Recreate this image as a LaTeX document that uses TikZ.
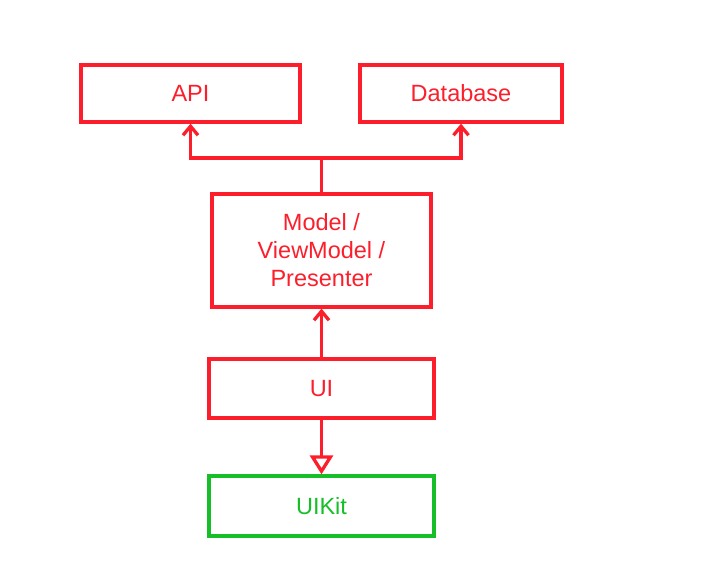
\documentclass[tikz,border=0pt]{standalone}
\usepackage{fontspec}
\setmainfont{Liberation Sans}
\usetikzlibrary{arrows.meta}
\definecolor{boxred}{RGB}{252,30,42}
\definecolor{boxgreen}{RGB}{22,190,40}
\begin{document}
\begin{tikzpicture}[x=1pt,y=-1pt,
  redbox/.style={draw=boxred,line width=3.3pt,text=boxred,align=center,font=\fontsize{23.5}{28}\selectfont,inner sep=0pt},
  greenbox/.style={draw=boxgreen,line width=3.3pt,text=boxgreen,align=center,font=\fontsize{23.5}{28}\selectfont,inner sep=0pt},
  link/.style={draw=boxred,line width=3.3pt},
  barb/.style={-{Straight Barb[length=9pt,width=15pt,line width=3.3pt]}},
  hollow/.style={-{Triangle[open,length=19pt,width=23pt,line width=3.3pt,fill=white]}}]
\useasboundingbox (0,0) rectangle (712,578);
\node[redbox,minimum width=219pt,minimum height=57pt] (api) at (190.5,93.5) {API};
\node[redbox,minimum width=202pt,minimum height=57pt] (db) at (461,93.5) {Database};
\node[redbox,minimum width=219pt,minimum height=113pt] (model) at (321.5,250.5) {Model /\\ViewModel /\\Presenter};
\node[redbox,minimum width=225pt,minimum height=59pt] (ui) at (321.5,388.5) {UI};
\node[greenbox,minimum width=225pt,minimum height=60pt] (uikit) at (321.5,506) {UIKit};
\coordinate (split) at (321.5,158);
\draw[link] (model.north) -- (split);
\draw[link,barb] (split) -| (api.south);
\draw[link,barb] (split) -| (db.south);
\draw[link,barb] (ui.north) -- (model.south);
\draw[link,hollow] (ui.south) -- (uikit.north);
\end{tikzpicture}
\end{document}
